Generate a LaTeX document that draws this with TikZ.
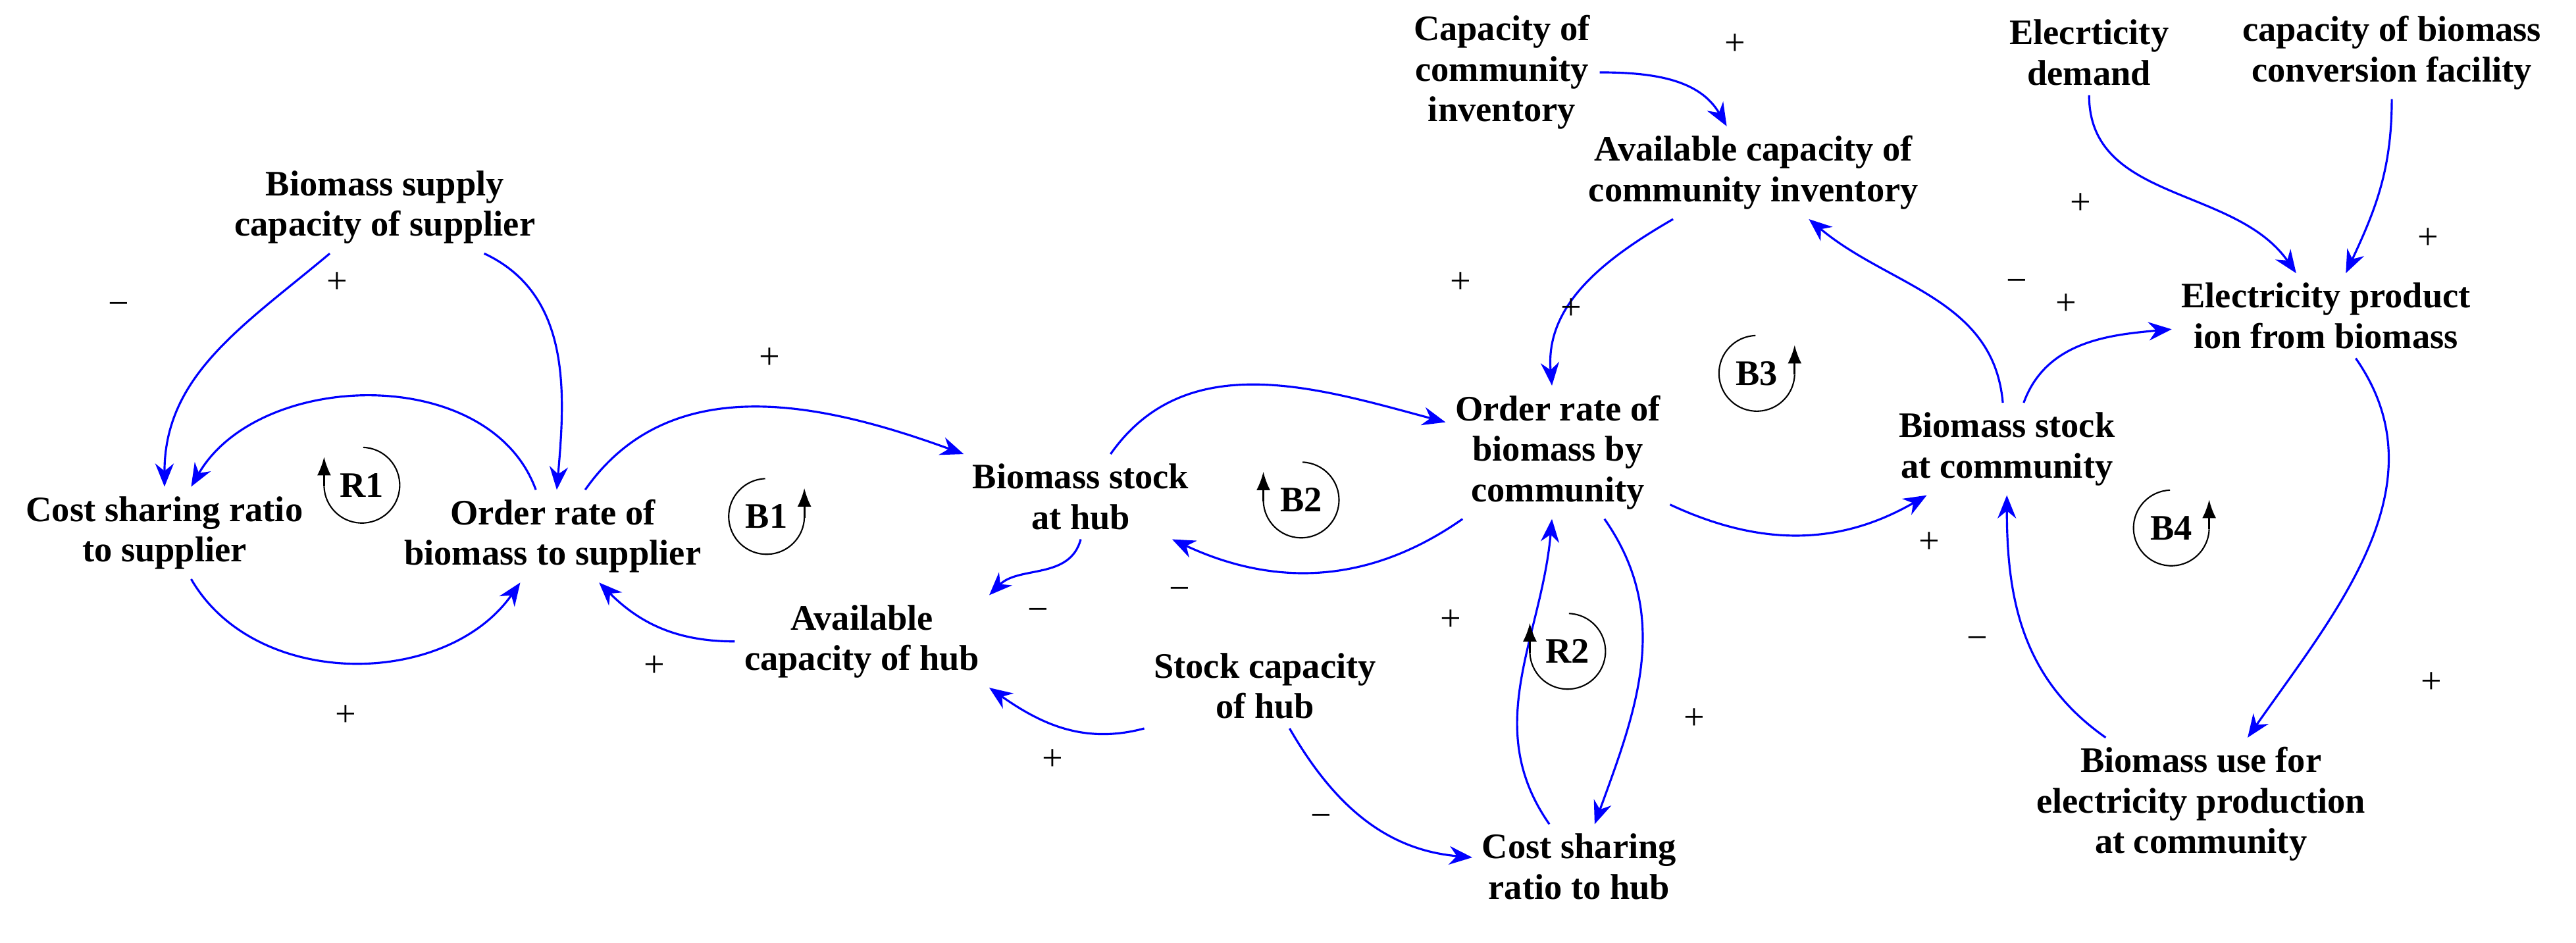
\documentclass[tikz,border=0pt]{standalone}
\usepackage{fontspec}
\setmainfont{Liberation Serif}
\usetikzlibrary{arrows.meta}
\begin{document}
\begin{tikzpicture}[x=0.025cm,y=0.025cm,
  v/.style={font=\bfseries\fontsize{15.5}{17.5}\selectfont,align=center,inner sep=4pt},
  e/.style={blue,line width=0.9pt,-{Stealth[length=10pt,width=8pt]}},
  s/.style={font=\fontsize{16}{17}\selectfont,inner sep=0pt},
  lp/.style={font=\bfseries\fontsize{15.5}{17}\selectfont,inner sep=0pt},
  lc/.style={line width=0.6pt},
  la/.style={line width=0.8pt,-{Latex[length=8pt,width=6pt]}}]
\useasboundingbox (0,0) rectangle (1566,573);
\node[v] (sup) at (234,447) {Biomass supply\\capacity of supplier};
\node[v] (csr) at (100,249) {Cost sharing ratio\\to supplier};
\node[v] (ors) at (336,247) {Order rate of\\biomass to supplier};
\node[v] (bsh) at (657,271) {Biomass stock\\at hub};
\node[v] (ach) at (524,183) {Available\\capacity of hub};
\node[v] (sch) at (769,156) {Stock capacity\\of hub};
\node[v] (csh) at (960,46) {Cost sharing\\ratio to hub};
\node[v] (orc) at (947,298) {Order rate of\\biomass by\\community};
\node[v] (cci) at (913,529) {Capacity of\\community\\inventory};
\node[v] (acc) at (1066,468) {Available capacity of\\community inventory};
\node[v] (bsc) at (1220,300) {Biomass stock\\at community};
\node[v] (ed) at (1270,541) {Elecrticity\\demand};
\node[v] (cbc) at (1454,541) {capacity of biomass\\conversion facility};
\node[v] (ep) at (1414,381) {Electricity product\\ion from biomass};
\node[v] (bu) at (1338,84) {Biomass use for\\electricity production\\at community};
\draw[e] (sup) to[out=220,in=90] (csr);
\draw[e] (sup) to[out=-25,in=85] (ors);
\draw[e] (ors) to[out=110,in=60] (csr);
\draw[e] (csr) to[out=-60,in=-125] (ors);
\draw[e] (ors) to[out=55,in=160] (bsh);
\draw[e] (ach) to[out=180,in=-45] (ors);
\draw[e] (bsh.south) to[out=-105,in=45] (ach.north east);
\draw[e] (sch.south west) to[out=195,in=-35] (ach.south east);
\draw[e] (sch) to[out=-60,in=175] (csh);
\draw[e] (bsh) to[out=55,in=165] (orc);
\draw[e] (orc) to[out=215,in=-25] (bsh);
\draw[e] (orc) to[out=-55,in=70] (csh);
\draw[e] (csh) to[out=125,in=-95] (orc);
\draw[e] (cci) to[out=0,in=120] (acc);
\draw[e] (acc) to[out=210,in=95] (orc);
\draw[e] (orc) to[out=-25,in=-150] (bsc);
\draw[e] (bsc) to[out=95,in=-40] (acc);
\draw[e] (bsc) to[out=70,in=185] (ep);
\draw[e] (ed) to[out=-90,in=125] (ep);
\draw[e] (cbc) to[out=-90,in=65] (ep);
\draw[e] (ep) to[out=-55,in=55] (bu);
\draw[e] (bu) to[out=145,in=-90] (bsc);
% polarity signs
\node[s] (p1) at (72,385) {−};
\node[s] (p2) at (205,401) {+};
\node[s] (p3) at (210,138) {+};
\node[s] (p4) at (468,355) {+};
\node[s] (p5) at (398,168) {+};
\node[s] (p6) at (631,199) {−};
\node[s] (p7) at (640,111) {+};
\node[s] (p8) at (803,74) {−};
\node[s] (p9) at (888,401) {+};
\node[s] (p10) at (717,212) {−};
\node[s] (p11) at (1030,136) {+};
\node[s] (p12) at (882,196) {+};
\node[s] (p13) at (1055,546) {+};
\node[s] (p14) at (955,385) {+};
\node[s] (p15) at (1173,243) {+};
\node[s] (p16) at (1226,399) {−};
\node[s] (p17) at (1256,388) {+};
\node[s] (p18) at (1265,449) {+};
\node[s] (p19) at (1476,428) {+};
\node[s] (p20) at (1478,158) {+};
\node[s] (p21) at (1202,182) {−};
% loops
\foreach \n/\x/\y/\t in {R1/220/278/r, R2/953/177/r, B1/466/259/b, B2/791/269/r, B3/1068/346/b, B4/1320/252/b}{
  \node[lp] (L\n) at (\x,\y) {\n};
  \if\t r
    \draw[lc] (L\n.center) ++(88:23) arc[start angle=88,end angle=-178,radius=23];
    \draw[la] (L\n.center) ++(-178:23) -- ++(0,18);
  \else
    \draw[lc] (L\n.center) ++(92:23) arc[start angle=92,end angle=358,radius=23];
    \draw[la] (L\n.center) ++(-2:23) -- ++(0,18);
  \fi
}
\end{tikzpicture}
\end{document}
